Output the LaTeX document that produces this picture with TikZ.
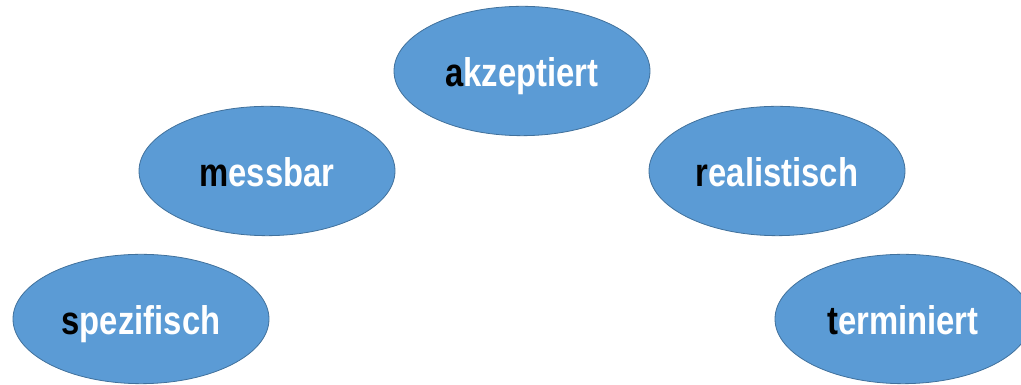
\documentclass[tikz,border=0pt]{standalone}
\usepackage{fontspec}
\setmainfont{Liberation Sans}
\newfontfamily\zielschrift[FakeStretch=0.82]{Liberation Sans}
\usetikzlibrary{shapes.geometric}
\definecolor{zielblau}{HTML}{5B9BD5}
\definecolor{zielrand}{HTML}{41719C}
\begin{document}
\begin{tikzpicture}[x=0.75pt, y=0.75pt,
    ziel/.style={ellipse, fill=zielblau, draw=zielrand, line width=0.6pt,
        minimum width=192pt, minimum height=97pt, inner sep=0pt,
        text=white, font=\zielschrift\fontsize{30}{36}\selectfont\bfseries,
        text height=24pt, text depth=0pt}]
    % Rahmen
    \clip (0,0) rectangle (1021,385);
    % Ellipsen einzeichnen
    \node[ziel] (spez) at (141,66) {\textcolor{black}{s}pezifisch};
    \node[ziel] (mess) at (267,214) {\textcolor{black}{m}essbar};
    \node[ziel] (akz) at (522,314) {\textcolor{black}{a}kzeptiert};
    \node[ziel] (real) at (777,214) {\textcolor{black}{r}ealistisch};
    \node[ziel] (term) at (903,66) {\textcolor{black}{t}erminiert};
\end{tikzpicture}
\end{document}
